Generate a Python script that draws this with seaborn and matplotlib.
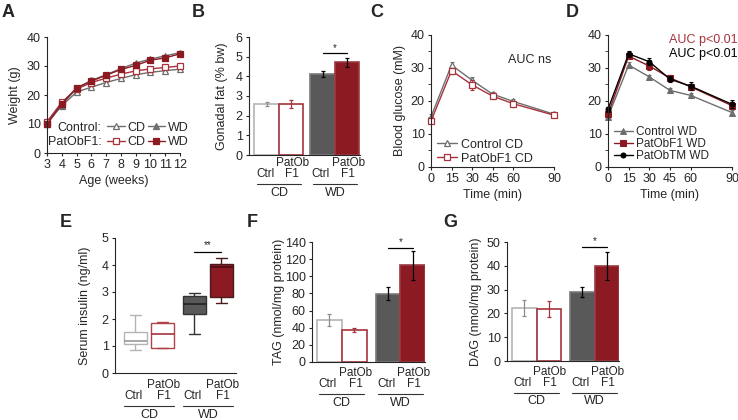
import matplotlib
matplotlib.use("Agg")
import matplotlib.pyplot as plt
import matplotlib.transforms as mtransforms
from matplotlib.ticker import MultipleLocator
import numpy as np
import pandas as pd
import seaborn as sns

sns.set_style("ticks")
plt.rcParams["font.family"] = ["Liberation Sans", "DejaVu Sans"]
plt.rcParams["font.size"] = 9
plt.rcParams["axes.linewidth"] = 0.8
plt.rcParams["xtick.major.size"] = 2.5
plt.rcParams["ytick.major.size"] = 2.5
plt.rcParams["xtick.major.pad"] = 2
plt.rcParams["ytick.major.pad"] = 2

# colours
GREY = "#6e6e6e"
RED = "#8c1a22"
LRED = "#a8323c"
DGREY = "#595959"
LGREY = "#b4b4b4"

# ---- data ----
# A: body weight
weeks = [3, 4, 5, 6, 7, 8, 9, 10, 11, 12]
ctrl_cd_wt = [10.6, 16.3, 21.0, 22.7, 24.3, 25.7, 27.0, 27.8, 28.4, 28.9]
ctrl_wd_wt = [10.0, 16.5, 22.3, 25.0, 27.0, 29.1, 31.0, 32.4, 33.5, 34.6]
pat_cd_wt = [10.8, 17.5, 22.0, 24.3, 25.8, 27.2, 28.3, 29.0, 29.5, 30.0]
pat_wd_wt = [10.0, 17.0, 22.5, 24.8, 26.8, 28.8, 30.2, 32.0, 32.8, 34.2]

# C/D: glucose tolerance
minutes = [0, 15, 30, 45, 60, 90]
ctrl_cd_glu = [15.2, 30.9, 26.3, 22.1, 19.9, 16.0]
ctrl_cd_err = [0.8, 0.9, 0.9, 0.7, 0.7, 0.6]
pat_cd_glu = [13.9, 29.2, 24.9, 21.5, 19.2, 15.7]
pat_cd_err = [0.7, 0.9, 1.5, 1.0, 0.9, 0.6]
ctrl_wd_glu = [15.2, 30.9, 27.3, 23.2, 21.7, 16.5]
ctrl_wd_err = [0.8, 0.8, 0.7, 0.7, 0.7, 0.7]
pat_wd_glu = [16.0, 33.6, 30.6, 27.0, 24.3, 18.6]
pat_wd_err = [0.8, 1.0, 1.2, 1.0, 1.0, 1.0]
tm_wd_glu = [17.5, 34.3, 31.9, 26.6, 24.5, 19.0]
tm_wd_err = [0.7, 0.9, 1.0, 0.9, 1.2, 1.2]

# B, F, G: bars (Ctrl CD, PatObF1 CD, Ctrl WD, PatObF1 WD)
diets = ["CD", "CD", "WD", "WD"]
groups = ["Ctrl", "PatObF1", "Ctrl", "PatObF1"]
diet_order = ["CD", "WD"]
group_order = ["Ctrl", "PatObF1"]
gonadal = [2.6, 2.58, 4.1, 4.72]
gonadal_err = [0.12, 0.2, 0.15, 0.22]
tag = [48.5, 37.5, 79.5, 113.0]
tag_err = [7.0, 2.5, 7.5, 17.0]
dag = [22.3, 21.8, 29.0, 40.0]
dag_err = [3.5, 3.5, 2.3, 6.0]

# E: serum insulin (min, Q1, median, Q3, max)
insulin_ctrl_cd = [0.86, 1.06, 1.19, 1.53, 2.16]
insulin_pat_cd = [0.92, 0.92, 1.46, 1.85, 1.88]
insulin_ctrl_wd = [1.43, 2.19, 2.56, 2.85, 2.95]
insulin_pat_wd = [2.6, 2.8, 3.92, 4.03, 4.25]

# face, edge, errorbar colour per bar
bar_style = [("white", LGREY, "#8c8c8c"),
             ("white", LRED, LRED),
             (DGREY, "#7a7a7a", "black"),
             (RED, "#9c3a42", "black")]
# face, edge, median colour per box
box_style = [("white", LGREY, "#9a9a9a"),
             ("white", "#b0404a", LRED),
             (DGREY, "#333333", "#222222"),
             (RED, "#4a1a1e", "#4d0c11")]

W, H = 738, 420
fig = plt.figure(figsize=(W / 100, H / 100), dpi=100)


def panel(l, t, r, b):
    ax = fig.add_axes([l / W, 1 - b / H, (r - l) / W, (b - t) / H])
    sns.despine(ax=ax)
    return ax


def label_pos(ax, l, t, r, b, ylab_off, xlab_off=None):
    ax.yaxis.set_label_coords(-(ylab_off - 6) / (r - l), 0.5)
    if xlab_off is not None:
        ax.xaxis.set_label_coords(0.5, -xlab_off / (b - t))


def slot(cx):
    # which of the four bars / boxes sits at data position cx
    d = int(round(cx))
    return d * 2 + (0 if cx < d else 1)


def group_labels(ax, width, pad=0):
    trans = mtransforms.blended_transform_factory(ax.transData, ax.transAxes)

    def off(dy):
        return mtransforms.offset_copy(trans, fig=fig, x=0, y=-dy, units="dots")

    for d, diet in enumerate(diet_order):
        ax.text(d - width / 4 - 0.03, 0, "Ctrl", transform=off(19 + pad), ha="center",
                va="center", fontsize=8.5)
        ax.text(d + width / 4 + 0.02, 0, "PatOb\nF1", transform=off(2 + pad), ha="center",
                va="top", linespacing=0.88, fontsize=8.5)
        ax.plot([d - width / 2 + 0.04, d + width / 2 - 0.04], [0, 0], transform=off(29 + pad),
                color="#333333", lw=0.8, clip_on=False)
        ax.text(d, 0, diet, transform=off(37.5 + pad), ha="center", va="center")


def sig(ax, x1, x2, y, text, ty):
    ax.plot([x1, x2], [y, y], color="black", lw=0.9, clip_on=False)
    ax.text((x1 + x2) / 2, ty, text, ha="center", va="center", fontsize=7)


def bar_panel(ax, values, errors, width):
    df = pd.DataFrame({"diet": diets, "group": groups, "value": values})
    sns.barplot(data=df, x="diet", y="value", hue="group", order=diet_order,
                hue_order=group_order, width=width, errorbar=None, saturation=1,
                legend=False, ax=ax)
    for p in list(ax.patches):
        cx = p.get_x() + p.get_width() / 2
        i = slot(cx)
        face, edge, ecol = bar_style[i]
        p.set_facecolor(face)
        p.set_edgecolor(edge)
        p.set_linewidth(1.2)
        ax.errorbar(cx, values[i], yerr=errors[i], color=ecol, capsize=1.5,
                    lw=0.9, capthick=0.9)
    ax.set_xticks([])
    ax.set_xlabel("")


# ---- A ----
l, t, r, b = 47, 37, 180, 153
ax = panel(l, t, r, b)
series = [(ctrl_cd_wt, GREY, "^", "white"),
          (pat_cd_wt, LRED, "s", "white"),
          (ctrl_wd_wt, GREY, "^", GREY),
          (pat_wd_wt, RED, "s", RED)]
handles = []
for vals, col, mk, mfc in series:
    sns.lineplot(x=weeks, y=vals, color=col, marker=mk, markerfacecolor=mfc,
                 markeredgecolor=col, markersize=4.2, markeredgewidth=0.9, lw=1,
                 clip_on=False, ax=ax)
    handles.append(ax.get_lines()[-1])
ax.set_xlim(3, 12)
ax.set_ylim(0, 40)
ax.set_xticks(weeks)
ax.set_yticks([0, 10, 20, 30, 40])
ax.set_xlabel("Age (weeks)")
ax.set_ylabel("Weight (g)")
label_pos(ax, l, t, r, b, 32, 22)
ax.legend(handles, ["CD", "CD", "WD", "WD"], ncol=2, loc="center left",
          bbox_to_anchor=(0.405, 0.155), frameon=False, borderpad=0,
          handlelength=1.4, handletextpad=0.2, columnspacing=0.2, labelspacing=0.2)
ax.text(0.41, 0.215, "Control:", transform=ax.transAxes, ha="right", va="center")
ax.text(0.41, 0.095, "PatObF1:", transform=ax.transAxes, ha="right", va="center")

# ---- B ----
l, t, r, b = 249, 37, 360, 155
ax = panel(l, t, r, b)
bar_panel(ax, gonadal, gonadal_err, 0.875)
ax.set_xlim(-0.535, 1.45)
ax.set_ylim(0, 6)
ax.set_yticks(range(0, 7))
ax.set_ylabel("Gonadal fat (% bw)")
label_pos(ax, l, t, r, b, 27)
group_labels(ax, 0.875)
sig(ax, 1 - 0.875 / 4, 1 + 0.875 / 4, 5.2, "*", 5.45)

# ---- C ----
l, t, r, b = 431, 35, 554, 167
ax = panel(l, t, r, b)
for vals, errs, col, mk, mfc, lab in [(ctrl_cd_glu, ctrl_cd_err, GREY, "^", "white", "Control CD"),
                                      (pat_cd_glu, pat_cd_err, LRED, "s", "white", "PatObF1 CD")]:
    ax.errorbar(minutes, vals, yerr=errs, fmt="none", ecolor=col, elinewidth=0.8,
                capsize=1.5, capthick=0.8, clip_on=False)
    sns.lineplot(x=minutes, y=vals, color=col, marker=mk, markerfacecolor=mfc,
                 markeredgecolor=col, markersize=4.2, markeredgewidth=0.9, lw=1,
                 clip_on=False, label=lab, ax=ax)
ax.set_xlim(0, 90)
ax.set_ylim(0, 40)
ax.set_xticks(minutes)
ax.set_yticks([0, 10, 20, 30, 40])
ax.yaxis.set_minor_locator(MultipleLocator(5))
ax.tick_params(which="minor", length=2.5)
ax.set_xlabel("Time (min)")
ax.set_ylabel("Blood glucose (mM)")
label_pos(ax, l, t, r, b, 31, 22)
ax.legend(loc="lower left", bbox_to_anchor=(0.0, -0.03), frameon=False, borderpad=0,
          handlelength=1.6, handletextpad=0.3, labelspacing=0.15)
ax.text(88, 32.5, "AUC ns", ha="right", va="center")

# ---- D ----
l, t, r, b = 608, 35, 732, 167
ax = panel(l, t, r, b)
for vals, errs, col, mk, lab in [(ctrl_wd_glu, ctrl_wd_err, GREY, "^", "Control WD"),
                                 (pat_wd_glu, pat_wd_err, RED, "s", "PatObF1 WD"),
                                 (tm_wd_glu, tm_wd_err, "black", "o", "PatObTM WD")]:
    ax.errorbar(minutes, vals, yerr=errs, fmt="none", ecolor=col, elinewidth=0.8,
                capsize=1.5, capthick=0.8, clip_on=False)
    sns.lineplot(x=minutes, y=vals, color=col, marker=mk, markerfacecolor=col,
                 markeredgecolor=col, markersize=4.2 if mk != "o" else 3.6, lw=1,
                 clip_on=False, label=lab, ax=ax)
ax.set_xlim(0, 90)
ax.set_ylim(0, 40)
ax.set_xticks(minutes)
ax.set_yticks([0, 10, 20, 30, 40])
ax.yaxis.set_minor_locator(MultipleLocator(5))
ax.tick_params(which="minor", length=2.5)
ax.set_xlabel("Time (min)")
ax.set_ylabel("")
ax.xaxis.set_label_coords(0.5, -22 / (b - t))
ax.legend(loc="lower left", bbox_to_anchor=(0.0, -0.01), frameon=False, borderpad=0,
          handlelength=1.6, handletextpad=0.3, labelspacing=0.0, fontsize=8.5)
ax.text(94, 38.5, "AUC p<0.01", ha="right", va="center", color=LRED, clip_on=False)
ax.text(94, 34.2, "AUC p<0.01", ha="right", va="center", color="black", clip_on=False)

# ---- E ----
l, t, r, b = 115, 238, 236, 373
ax = panel(l, t, r, b)
box_rows = []
for vals, diet, grp in [(insulin_ctrl_cd, "CD", "Ctrl"), (insulin_pat_cd, "CD", "PatObF1"),
                        (insulin_ctrl_wd, "WD", "Ctrl"), (insulin_pat_wd, "WD", "PatObF1")]:
    for v in vals:
        box_rows.append({"diet": diet, "group": grp, "value": v})
box_df = pd.DataFrame(box_rows)
sns.boxplot(data=box_df, x="diet", y="value", hue="group", order=diet_order,
            hue_order=group_order, width=0.915, gap=0.12, whis=(0, 100),
            linewidth=1, saturation=1, legend=False, ax=ax)
# restyle each box by where it sits
for p in ax.patches:
    cx = np.mean(p.get_path().vertices[:, 0])
    face, edge, med = box_style[slot(cx)]
    p.set_facecolor(face)
    p.set_edgecolor(edge)
for ln in list(ax.lines):
    xs = np.asarray(ln.get_xdata(), dtype=float)
    ys = np.asarray(ln.get_ydata(), dtype=float)
    if len(xs) == 0:
        continue
    face, edge, med = box_style[slot(xs.mean())]
    ln.set_color(edge)
    # the median is the wide horizontal segment
    if len(ys) == 2 and ys[0] == ys[1] and abs(xs[1] - xs[0]) > 0.3:
        ln.set_color(med)
        ln.set_linewidth(1.2)
ax.set_xlim(-0.576, 1.475)
ax.set_ylim(0, 5)
ax.set_xticks([])
ax.set_xlabel("")
ax.set_ylabel("Serum insulin (ng/ml)")
label_pos(ax, l, t, r, b, 30)
group_labels(ax, 0.915, pad=4)
sig(ax, 1 - 0.915 / 4, 1 + 0.915 / 4, 4.47, "**", 4.75)

# ---- F ----
l, t, r, b = 312, 242, 425, 362
ax = panel(l, t, r, b)
bar_panel(ax, tag, tag_err, 0.85)
ax.set_xlim(-0.51, 1.42)
ax.set_ylim(0, 140)
ax.set_yticks(range(0, 141, 20))
ax.set_ylabel("TAG (nmol/mg protein)")
label_pos(ax, l, t, r, b, 33)
group_labels(ax, 0.85, pad=3)
sig(ax, 1 - 0.85 / 4, 1 + 0.85 / 4, 133, "*", 140)

# ---- G ----
l, t, r, b = 507, 242, 619, 361
ax = panel(l, t, r, b)
bar_panel(ax, dag, dag_err, 0.845)
ax.set_xlim(-0.51, 1.42)
ax.set_ylim(0, 50)
ax.set_yticks(range(0, 51, 10))
ax.set_ylabel("DAG (nmol/mg protein)")
label_pos(ax, l, t, r, b, 31)
group_labels(ax, 0.845, pad=3)
sig(ax, 1 - 0.845 / 4, 1 + 0.845 / 4, 48.0, "*", 50.5)

# panel letters
for letter, x, y in [("A", 2, 4), ("B", 192, 4), ("C", 370, 4), ("D", 566, 4),
                     ("E", 60, 214), ("F", 247, 214), ("G", 443, 214)]:
    fig.text(x / W, 1 - y / H, letter, fontsize=13, fontweight="bold", ha="left", va="top")

fig.savefig("out.png", dpi=100)
